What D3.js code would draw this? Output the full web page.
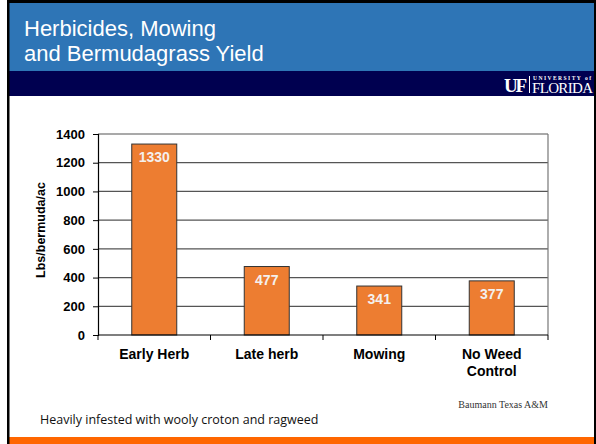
<!DOCTYPE html>
<html>
<head>
<meta charset="utf-8">
<script src="https://cdn.jsdelivr.net/npm/d3@7"></script>
<style>
  body { margin: 0; background: #fff; }
  svg { display: block; }
</style>
</head>
<body>
<div id="chart"></div>
<script>
// data
const categories = ["Early Herb", "Late herb", "Mowing", "No Weed Control"];
const yields = [1330, 477, 341, 377];
const yTicks = [0, 200, 400, 600, 800, 1000, 1200, 1400];
const titleLines = ["Herbicides, Mowing", "and Bermudagrass Yield"];
const yLabel = "Lbs/bermuda/ac";
const note = "Heavily infested with wooly croton and ragweed";
const source = "Baumann Texas A&M";

const W = 596, H = 444;
const plot = {left: 98, right: 548, top: 134, bottom: 335};

const svg = d3.select("#chart").append("svg")
    .attr("width", W)
    .attr("height", H);

// slide background + frame
svg.append("rect").attr("x", 0).attr("y", 0).attr("width", W).attr("height", H).attr("fill", "#fff");
svg.append("rect").attr("x", 9).attr("y", 3).attr("width", W - 11).attr("height", 68).attr("fill", "#2E75B6");
svg.append("rect").attr("x", 9).attr("y", 71).attr("width", W - 11).attr("height", 25).attr("fill", "#000050");
svg.append("rect").attr("x", 9).attr("y", 437).attr("width", W - 11).attr("height", 7).attr("fill", "#FF6600");
// black border (left, top, right)
svg.append("rect").attr("x", 7).attr("y", 0).attr("width", W - 7).attr("height", 3).attr("fill", "#000");
svg.append("rect").attr("x", 7).attr("y", 0).attr("width", 2.5).attr("height", H).attr("fill", "#000");
svg.append("rect").attr("x", 594).attr("y", 0).attr("width", 2).attr("height", H).attr("fill", "#000");

// title
svg.append("g").selectAll("text")
    .data(titleLines)
    .join("text")
    .attr("x", 24)
    .attr("y", (d, i) => 36 + i * 25)
    .attr("fill", "#fff")
    .attr("font-family", "Liberation Sans, Arial, sans-serif")
    .attr("font-size", 22)
    .text(d => d);

// UF logo as text
const logo = svg.append("g").attr("fill", "#fff");
logo.append("text")
    .attr("x", 504).attr("y", 92)
    .attr("font-family", "Liberation Serif, serif")
    .attr("font-weight", "bold")
    .attr("font-size", 19)
    .attr("textLength", 23)
    .text("UF");
logo.append("rect").attr("x", 529).attr("y", 76).attr("width", 1).attr("height", 17);
logo.append("text")
    .attr("x", 533).attr("y", 80)
    .attr("font-family", "Liberation Serif, serif")
    .attr("font-weight", "bold")
    .attr("font-size", 5.5)
    .attr("textLength", 58)
    .text("UNIVERSITY of");
logo.append("text")
    .attr("x", 532).attr("y", 93)
    .attr("font-family", "Liberation Serif, serif")
    .attr("font-size", 15)
    .attr("textLength", 61)
    .text("FLORIDA");

// scales
const x = d3.scaleBand()
    .domain(categories)
    .range([plot.left, plot.right])
    .paddingInner(0.6)
    .paddingOuter(0.3);

const y = d3.scaleLinear()
    .domain([0, 1400])
    .range([plot.bottom, plot.top]);

// gridlines
svg.append("g")
    .selectAll("line")
    .data(yTicks.slice(1))
    .join("line")
    .attr("x1", plot.left).attr("x2", plot.right)
    .attr("y1", d => y(d)).attr("y2", d => y(d))
    .attr("stroke", "#555")
    .attr("stroke-width", 1.2);

// right border of plot
svg.append("line")
    .attr("x1", plot.right).attr("x2", plot.right)
    .attr("y1", plot.top).attr("y2", plot.bottom)
    .attr("stroke", "#777")
    .attr("stroke-width", 1.2);

// bars
svg.append("g")
    .selectAll("rect")
    .data(yields)
    .join("rect")
    .attr("x", (d, i) => x(categories[i]))
    .attr("y", d => y(d))
    .attr("width", x.bandwidth())
    .attr("height", d => y(0) - y(d))
    .attr("fill", "#ED7D31")
    .attr("stroke", "#333")
    .attr("stroke-width", 1);

// value labels
svg.append("g")
    .selectAll("text")
    .data(yields)
    .join("text")
    .attr("x", (d, i) => x(categories[i]) + x.bandwidth() / 2)
    .attr("y", d => y(d) + 18)
    .attr("text-anchor", "middle")
    .attr("fill", "#f4f0ee")
    .attr("font-family", "Liberation Sans, Arial, sans-serif")
    .attr("font-weight", "bold")
    .attr("font-size", 14)
    .text(d => d);

// y axis
const yAxis = svg.append("g")
    .attr("transform", `translate(${plot.left},0)`)
    .call(d3.axisLeft(y).tickValues(yTicks).tickFormat(d3.format("d")).tickSize(5).tickPadding(8));
yAxis.select(".domain").attr("stroke", "#000").attr("stroke-width", 1.2);
yAxis.selectAll(".tick line").attr("stroke", "#000");
yAxis.selectAll(".tick text")
    .attr("fill", "#000")
    .attr("font-family", "Liberation Sans, Arial, sans-serif")
    .attr("font-weight", "bold")
    .attr("font-size", 13);

// x axis: ticks sit at category boundaries
const bounds = d3.range(categories.length + 1).map(i => plot.left + i * (plot.right - plot.left) / categories.length);
svg.append("line")
    .attr("x1", plot.left).attr("x2", plot.right)
    .attr("y1", plot.bottom).attr("y2", plot.bottom)
    .attr("stroke", "#000").attr("stroke-width", 1.2);
svg.append("g")
    .selectAll("line")
    .data(bounds)
    .join("line")
    .attr("x1", d => d).attr("x2", d => d)
    .attr("y1", plot.bottom).attr("y2", plot.bottom + 5)
    .attr("stroke", "#000");

const xLabels = svg.append("g")
    .selectAll("text")
    .data(categories)
    .join("text")
    .attr("x", d => x(d) + x.bandwidth() / 2)
    .attr("y", 359)
    .attr("text-anchor", "middle")
    .attr("fill", "#000")
    .attr("font-family", "Liberation Sans, Arial, sans-serif")
    .attr("font-weight", "bold")
    .attr("font-size", 14);
// wrap "No Weed Control" onto two lines
xLabels.each(function(d) {
    const words = d === "No Weed Control" ? ["No Weed", "Control"] : [d];
    d3.select(this).selectAll("tspan")
        .data(words)
        .join("tspan")
        .attr("x", x(d) + x.bandwidth() / 2)
        .attr("dy", (w, i) => i === 0 ? 0 : 17)
        .text(w => w);
});

// y axis title
svg.append("text")
    .attr("transform", "translate(45,230) rotate(-90)")
    .attr("text-anchor", "middle")
    .attr("fill", "#000")
    .attr("font-family", "Liberation Sans, Arial, sans-serif")
    .attr("font-weight", "bold")
    .attr("font-size", 12.5)
    .text(yLabel);

// source + note
svg.append("text")
    .attr("x", 548).attr("y", 408)
    .attr("text-anchor", "end")
    .attr("fill", "#333")
    .attr("font-family", "Liberation Serif, serif")
    .attr("font-size", 10)
    .text(source);

svg.append("text")
    .attr("x", 40).attr("y", 424)
    .attr("fill", "#111")
    .attr("font-family", "Open Sans, sans-serif")
    .attr("font-size", 12.5)
    .text(note);
</script>
</body>
</html>
